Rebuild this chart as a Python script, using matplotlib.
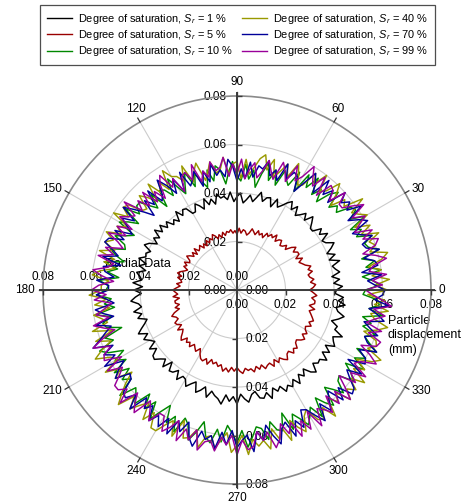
import numpy as np
import matplotlib
matplotlib.use("Agg")
import matplotlib.pyplot as plt
from matplotlib.lines import Line2D

plt.rcParams["font.family"] = ["Liberation Sans", "DejaVu Sans"]
plt.rcParams["mathtext.fontset"] = "custom"
plt.rcParams["mathtext.rm"] = "Liberation Sans"
plt.rcParams["mathtext.it"] = "Liberation Sans:italic"

# Polar angle of each sample (degrees), one value every 2 degrees
angle_deg = list(range(0, 360, 2))

# Particle displacement in micrometres (1e-3 mm), one row per 20 degrees
disp_sr1 = [
    41, 43.5, 40, 42.5, 39.5, 43, 41.5, 40.5, 44, 40,
    43, 40, 42.5, 44.5, 41.5, 40.5, 44, 41, 43, 39.5,
    39.5, 41.5, 43.5, 40, 42.5, 40.5, 39, 42.5, 40, 43,
    41.5, 39.5, 38, 41, 37, 40.5, 40, 38, 41.5, 39,
    37, 39.5, 37.5, 36, 40, 38.5, 36.5, 40.5, 37.5, 39,
    38.5, 40.5, 36.5, 39, 37, 40, 36, 38, 39.5, 36.5,
    36.5, 39.5, 40, 38, 41, 37, 39, 37.5, 40.5, 38.5,
    41.5, 39, 42, 38.5, 40.5, 38, 41, 42.5, 39, 40.5,
    40, 42.5, 39, 41.5, 38.5, 42, 40.5, 39.5, 43, 39,
    42.5, 39.5, 42, 44, 41, 40, 43.5, 40.5, 42.5, 39,
    40.5, 42.5, 44.5, 41, 43.5, 41.5, 40, 43.5, 41, 44,
    44.5, 42.5, 41, 44, 40, 43.5, 43, 41, 44.5, 42,
    42.5, 45, 43, 41.5, 45.5, 44, 42, 46, 43, 44.5,
    45.5, 47.5, 43.5, 46, 44, 47, 43, 45, 46.5, 43.5,
    42.5, 45.5, 46, 44, 47, 43, 45, 43.5, 46.5, 44.5,
    46, 43.5, 46.5, 43, 45, 42.5, 45.5, 47, 43.5, 45,
    44.5, 47, 43.5, 46, 43, 46.5, 45, 44, 47.5, 43.5,
    44, 41, 43.5, 45.5, 42.5, 41.5, 45, 42, 44, 40.5,
]
disp_sr5 = [
    30, 31.5, 32.5, 30.5, 32, 30.5, 30, 32, 30.5, 32,
    30, 29, 28, 30, 27.5, 29.5, 29.5, 28, 30, 28.5,
    26, 27.5, 26, 25.5, 27.5, 27, 25.5, 28, 26, 27,
    25.5, 26.5, 24, 25.5, 24.5, 26, 24, 25, 26, 24,
    23, 24.5, 25, 23.5, 25.5, 23, 24.5, 23.5, 25, 24,
    24.5, 23, 24.5, 22.5, 24, 22.5, 24, 25, 23, 24,
    22.5, 24, 22, 23.5, 22, 24, 23, 22.5, 24.5, 22,
    24, 22.5, 24, 25, 23, 22.5, 24.5, 23, 24, 22,
    23, 24.5, 25.5, 23.5, 25, 23.5, 23, 25, 23.5, 25,
    26.5, 25.5, 24.5, 26.5, 24, 26, 26, 24.5, 26.5, 25,
    27.5, 29, 27.5, 27, 29, 28.5, 27, 29.5, 27.5, 28.5,
    30, 31, 28.5, 30, 29, 30.5, 28.5, 29.5, 30.5, 28.5,
    30.5, 32, 32.5, 31, 33, 30.5, 32, 31, 32.5, 31.5,
    34, 32.5, 34, 32, 33.5, 32, 33.5, 34.5, 32.5, 33.5,
    33, 34.5, 32.5, 34, 32.5, 34.5, 33.5, 33, 35, 32.5,
    34.5, 33, 34.5, 35.5, 33.5, 33, 35, 33.5, 34.5, 32.5,
    32, 33.5, 34.5, 32.5, 34, 32.5, 32, 34, 32.5, 34,
    33, 32, 31, 33, 30.5, 32.5, 32.5, 31, 33, 31.5,
]
disp_sr10 = [
    53, 59, 56, 52, 60, 54, 58, 53, 61, 57,
    56, 60, 54, 57, 53, 61, 55, 59, 58, 52,
    54, 51, 58, 55, 49, 54, 50, 57, 51, 56,
    47, 55, 48, 50, 53, 46, 52, 47, 54, 49,
    43, 50, 46, 52, 45, 47, 53, 49, 44, 50,
    52, 46, 51, 44, 47, 51, 46, 53, 49, 45,
    49, 54, 47, 51, 52, 45, 53, 47, 50, 54,
    54, 51, 57, 49, 53, 56, 48, 51, 55, 50,
    49, 55, 52, 48, 56, 50, 54, 49, 57, 53,
    54, 58, 52, 55, 51, 59, 53, 57, 56, 50,
    58, 55, 62, 59, 53, 58, 54, 61, 55, 60,
    57, 65, 58, 60, 63, 56, 62, 57, 64, 59,
    55, 62, 58, 64, 57, 59, 65, 61, 56, 62,
    64, 58, 63, 56, 59, 63, 58, 65, 61, 57,
    58, 63, 56, 60, 61, 54, 62, 56, 59, 63,
    60, 57, 63, 55, 59, 62, 54, 57, 61, 56,
    55, 61, 58, 54, 62, 56, 60, 55, 63, 59,
    56, 60, 54, 57, 53, 61, 55, 59, 58, 52,
]
disp_sr40 = [
    62, 57, 63, 56, 60, 55, 61, 64, 57, 60,
    58, 63, 56, 61, 55, 62, 59, 57, 64, 56,
    58, 52, 57, 61, 55, 53, 60, 54, 58, 51,
    50, 54, 58, 51, 56, 52, 49, 56, 51, 57,
    55, 51, 48, 54, 46, 53, 52, 48, 55, 50,
    49, 54, 50, 47, 55, 52, 48, 56, 50, 53,
    54, 58, 50, 55, 51, 57, 49, 53, 56, 50,
    51, 57, 58, 54, 60, 52, 56, 53, 59, 55,
    58, 53, 59, 52, 56, 51, 57, 60, 53, 56,
    56, 61, 54, 59, 53, 60, 57, 55, 62, 54,
    62, 56, 61, 65, 59, 57, 64, 58, 62, 55,
    60, 64, 68, 61, 66, 62, 59, 66, 61, 67,
    67, 63, 60, 66, 58, 65, 64, 60, 67, 62,
    61, 66, 62, 59, 67, 64, 60, 68, 62, 65,
    63, 67, 59, 64, 60, 66, 58, 62, 65, 59,
    57, 63, 64, 60, 66, 58, 62, 59, 65, 61,
    64, 59, 65, 58, 62, 57, 63, 66, 59, 62,
    61, 55, 60, 64, 58, 56, 63, 57, 61, 54,
]
disp_sr70 = [
    61, 57, 54, 60, 52, 59, 58, 54, 61, 56,
    55, 60, 56, 53, 61, 58, 54, 62, 56, 59,
    56, 60, 52, 57, 53, 59, 51, 55, 58, 52,
    47, 53, 54, 50, 56, 48, 52, 49, 55, 51,
    52, 47, 53, 46, 50, 45, 51, 54, 47, 50,
    48, 53, 46, 51, 45, 52, 49, 47, 54, 46,
    53, 47, 52, 56, 50, 48, 55, 49, 53, 46,
    50, 54, 58, 51, 56, 52, 49, 56, 51, 57,
    58, 54, 51, 57, 49, 56, 55, 51, 58, 53,
    53, 58, 54, 51, 59, 56, 52, 60, 54, 57,
    60, 64, 56, 61, 57, 63, 55, 59, 62, 56,
    57, 63, 64, 60, 66, 58, 62, 59, 65, 61,
    65, 60, 66, 59, 63, 58, 64, 67, 60, 63,
    61, 66, 59, 64, 58, 65, 62, 60, 67, 59,
    63, 57, 62, 66, 60, 58, 65, 59, 63, 56,
    57, 61, 65, 58, 63, 59, 56, 63, 58, 64,
    63, 59, 56, 62, 54, 61, 60, 56, 63, 58,
    56, 61, 57, 54, 62, 59, 55, 63, 57, 60,
]
disp_sr99 = [
    53, 60, 56, 62, 55, 57, 63, 59, 54, 60,
    62, 56, 61, 54, 57, 61, 56, 63, 59, 55,
    55, 60, 53, 57, 58, 51, 59, 53, 56, 60,
    54, 51, 57, 49, 53, 56, 48, 51, 55, 50,
    47, 53, 50, 46, 54, 48, 52, 47, 55, 51,
    50, 54, 48, 51, 47, 55, 49, 53, 52, 46,
    53, 50, 57, 54, 48, 53, 49, 56, 50, 55,
    51, 59, 52, 54, 57, 50, 56, 51, 58, 53,
    50, 57, 53, 59, 52, 54, 60, 56, 51, 57,
    60, 54, 59, 52, 55, 59, 54, 61, 57, 53,
    59, 64, 57, 61, 62, 55, 63, 57, 60, 64,
    64, 61, 67, 59, 63, 66, 58, 61, 65, 60,
    60, 66, 63, 59, 67, 61, 65, 60, 68, 64,
    63, 67, 61, 64, 60, 68, 62, 66, 65, 59,
    63, 60, 67, 64, 58, 63, 59, 66, 60, 65,
    58, 66, 59, 61, 64, 57, 63, 58, 65, 60,
    55, 62, 58, 64, 57, 59, 65, 61, 56, 62,
    63, 57, 62, 55, 58, 62, 57, 64, 60, 56,
]

saturation = [1, 5, 10, 40, 70, 99]
series = [disp_sr1, disp_sr5, disp_sr10, disp_sr40, disp_sr70, disp_sr99]
colors = ["#000000", "#990000", "#008800", "#999900", "#000099", "#990099"]

radial_ticks = [0.0, 0.02, 0.04, 0.06, 0.08]
angle_ticks = list(range(0, 360, 30))
r_max = 0.08

W, H = 465, 504
fig = plt.figure(figsize=(W / 100, H / 100), dpi=100)
cx, cy, rad_px = 237, 290, 194
ax = fig.add_axes([(cx - rad_px) / W, (H - cy - rad_px) / H,
                   2 * rad_px / W, 2 * rad_px / H], projection="polar")
ax.set_theta_zero_location("E")
ax.set_theta_direction(1)
ax.set_ylim(0, r_max)
ax.set_thetagrids(angle_ticks, labels=[])
ax.set_rgrids([0.02, 0.04, 0.06], labels=[])
ax.grid(True, color="#cccccc", lw=0.8)
ax.tick_params(length=0)
ax.spines["polar"].set_color("#8a8a8a")
ax.spines["polar"].set_linewidth(1.2)
ax.set_axisbelow(True)

# data curves, closed around the full circle
theta = np.deg2rad(np.array(angle_deg + [angle_deg[0] + 360]))
for vals, c in zip(series, colors):
    r = np.array(vals + [vals[0]]) / 1000.0
    ax.plot(theta, r, color=c, lw=1.05, zorder=2)

# outward angular ticks on the outer circle
for a in angle_ticks:
    t = np.deg2rad(a)
    ax.plot([t, t], [r_max, r_max * 1.023], color="#333333", lw=0.9,
            clip_on=False, zorder=4)

# four radial axes through the centre
for a in (0, 90, 180, 270):
    t = np.deg2rad(a)
    ax.plot([t, t], [0, r_max * 1.023], color="#3a3a3a", lw=1.4,
            clip_on=False, zorder=4, solid_capstyle="butt")

# tick marks on the radial axes
tick_r = radial_ticks[1:]
for a, mk in ((0, 3), (90, 1), (180, 3), (270, 0)):
    ax.plot([np.deg2rad(a)] * len(tick_r), tick_r, ls="none", marker=mk,
            ms=3.5, mew=1.0, color="#3a3a3a", clip_on=False, zorder=4)

pt = 0.72  # points per pixel at 100 dpi
fs = 8.5
for rv in radial_ticks:
    lab = f"{rv:.2f}"
    ax.annotate(lab, xy=(0, rv), xytext=(0, -18 * pt), textcoords="offset points",
                ha="center", va="baseline", fontsize=fs, zorder=1.5,
                annotation_clip=False)
    ax.annotate(lab, xy=(np.pi, rv), xytext=(0, 10 * pt), textcoords="offset points",
                ha="center", va="baseline", fontsize=fs, zorder=1.5,
                annotation_clip=False)
    ax.annotate(lab, xy=(np.pi / 2, rv), xytext=(-10 * pt, -4 * pt),
                textcoords="offset points", ha="right", va="baseline",
                fontsize=fs, zorder=1.5, annotation_clip=False)
    ax.annotate(lab, xy=(1.5 * np.pi, rv), xytext=(9 * pt, -4 * pt),
                textcoords="offset points", ha="left", va="baseline",
                fontsize=fs, zorder=1.5, annotation_clip=False)

for a in angle_ticks:
    t = np.deg2rad(a)
    c, s = np.cos(t), np.sin(t)
    if abs(s) > 0.8:
        ha, va = "center", ("bottom" if s > 0 else "top")
    else:
        ha, va = ("left" if c > 0 else "right"), "center"
    ax.annotate(str(a), xy=(t, r_max * 1.023), xytext=(c * 3.5 * pt, s * 3.5 * pt),
                textcoords="offset points", ha=ha, va=va, fontsize=fs,
                annotation_clip=False)

ax.text(138 / W, 1 - 264 / H, "Radial Data", transform=fig.transFigure,
        ha="center", va="center", fontsize=9, zorder=1.5)
ax.text(388 / W, 1 - 315 / H, "Particle\ndisplacement\n(mm)",
        transform=fig.transFigure, ha="left", va="top", fontsize=9,
        linespacing=1.26, zorder=1.5)

handles = [Line2D([], [], color=c, lw=1.0) for c in colors]
labels = [f"Degree of saturation, $S_r$ = {v} %" for v in saturation]
leg = fig.legend(handles, labels, ncol=2, loc="upper left",
                 bbox_to_anchor=(40 / W, 1 - 5 / H), borderaxespad=0,
                 fontsize=7.9, frameon=True, fancybox=False, edgecolor="#222222",
                 handlelength=2.3, handletextpad=0.55, columnspacing=0.8,
                 labelspacing=0.22, borderpad=0.6)
leg.get_frame().set_linewidth(0.9)

fig.savefig("out.png", dpi=100)
